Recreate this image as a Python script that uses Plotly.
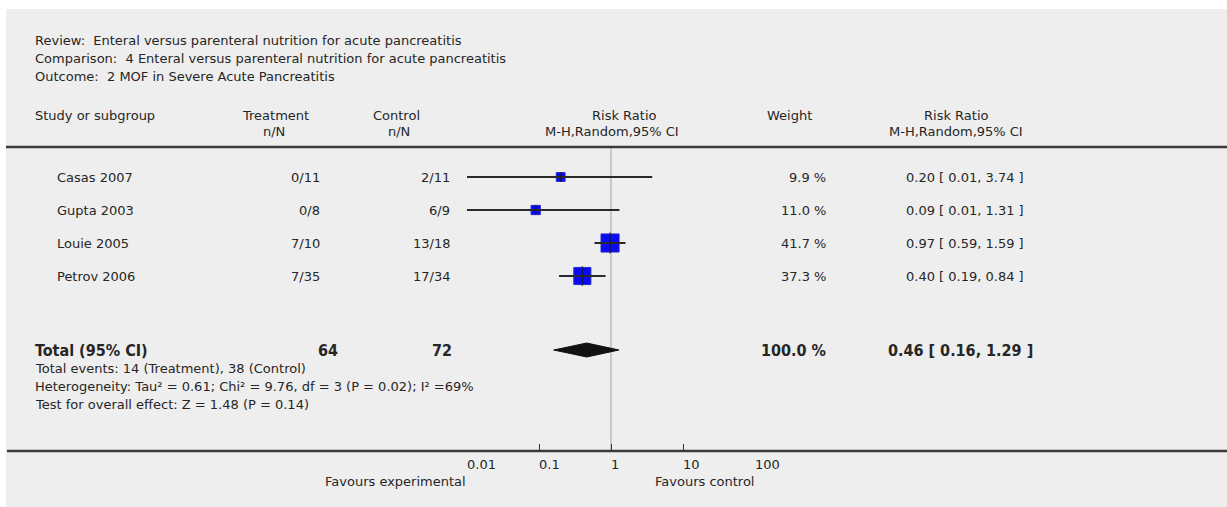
import math
import plotly.graph_objects as go

# ---- data ----
studies = ["Casas 2007", "Gupta 2003", "Louie 2005", "Petrov 2006"]
trt_events = [0, 0, 7, 7]
trt_total = [11, 8, 10, 35]
ctl_events = [2, 6, 13, 17]
ctl_total = [11, 9, 18, 34]
weights = [9.9, 11.0, 41.7, 37.3]
rr = [0.20, 0.09, 0.97, 0.40]
rr_lo = [0.01, 0.01, 0.59, 0.19]
rr_hi = [3.74, 1.31, 1.59, 0.84]

pooled_rr = 0.46
pooled_lo = 0.16
pooled_hi = 1.29
pooled_weight = 100.0

axis_ticks = [0.01, 0.1, 1, 10, 100]
axis_labels = ["0.01", "0.1", "1", "10", "100"]

header_lines = [
    "Review:\u00a0\u00a0Enteral versus parenteral nutrition for acute pancreatitis",
    "Comparison:\u00a0\u00a04 Enteral versus parenteral nutrition for acute pancreatitis",
    "Outcome:\u00a0\u00a02 MOF in Severe Acute Pancreatitis",
]
footer_lines = [
    "Total events: 14 (Treatment), 38 (Control)",
    "Heterogeneity: Tau\u00b2 = 0.61; Chi\u00b2 = 9.76, df = 3 (P = 0.02); I\u00b2 =69%",
    "Test for overall effect: Z = 1.48 (P = 0.14)",
]

# ---- layout geometry ----
W, H = 1227, 507
ROW0, ROW_STEP = 177, 33          # pixel centre of first study row, row spacing
TOTAL_ROW = (350 - ROW0) / ROW_STEP
FONT = "DejaVu Sans, Liberation Sans, sans-serif"
BOLD_FONT = "DejaVu Sans Condensed, DejaVu Sans, sans-serif"
TXT = "#262626"


def px(x):
    return x / W


def py(y):
    return 1 - y / H


fig = go.Figure()

# study squares (area proportional to weight)
sizes = [2.8 * math.sqrt(w) for w in weights]
rows = list(range(len(studies)))
fig.add_trace(go.Scatter(
    x=rr, y=rows, mode="markers", opacity=1,
    marker=dict(symbol="square", size=sizes, color="#0a0af5", opacity=1,
                line=dict(color="#2828c8", width=1)),
    cliponaxis=False, hoverinfo="skip", showlegend=False))

# confidence interval lines
for i in rows:
    fig.add_trace(go.Scatter(
        x=[rr_lo[i], rr_hi[i]], y=[i, i], mode="lines",
        line=dict(color="#2a2a2a", width=2),
        cliponaxis=False, hoverinfo="skip", showlegend=False))

# point-estimate cross ticks
fig.add_trace(go.Scatter(
    x=rr, y=rows, mode="markers",
    marker=dict(symbol="line-ns", size=[max(s - 3, 7) for s in sizes],
                line=dict(color="#1a1a1a", width=1.5)),
    cliponaxis=False, hoverinfo="skip", showlegend=False))

# pooled diamond
dh = 7 / ROW_STEP
fig.add_trace(go.Scatter(
    x=[pooled_lo, pooled_rr, pooled_hi, pooled_rr, pooled_lo],
    y=[TOTAL_ROW, TOTAL_ROW - dh, TOTAL_ROW, TOTAL_ROW + dh, TOTAL_ROW],
    mode="lines", fill="toself", fillcolor="#111111",
    line=dict(color="#111111", width=1),
    cliponaxis=False, hoverinfo="skip", showlegend=False))

shapes = [
    # grey panel
    dict(type="rect", xref="paper", yref="paper", x0=px(6), x1=1, y0=0, y1=py(9),
         fillcolor="#eeeeee", line=dict(width=0), layer="below"),
    # header rule
    dict(type="line", xref="paper", yref="paper", x0=px(6), x1=1, y0=py(147), y1=py(147),
         line=dict(color="#3a3a3a", width=2.5)),
    # axis rule
    dict(type="line", xref="paper", yref="paper", x0=px(7), x1=1, y0=py(451), y1=py(451),
         line=dict(color="#3a3a3a", width=2.5)),
    # line of no effect
    dict(type="line", xref="x", yref="paper", x0=1, x1=1, y0=py(451), y1=py(147),
         line=dict(color="#bdbdbd", width=1.5), layer="below"),
]

annotations = []


def text(x, y, s, anchor="left", size=13, bold=False, yref="paper", xref="paper"):
    family = FONT
    if bold:
        s = "<b>" + s + "</b>"
        family = BOLD_FONT
    shift = {"left": -2, "right": 2, "center": 0}[anchor]
    annotations.append(dict(
        x=x, y=y, xref=xref, yref=yref, text=s, showarrow=False,
        xanchor=anchor, yanchor="middle", xshift=shift,
        font=dict(family=family, size=size, color=TXT)))


# review header
for k, line in enumerate(header_lines):
    text(px(35), py(41 + 17.5 * k), line)

# column headers
text(px(35), py(115), "Study or subgroup")
text(px(275), py(115), "Treatment", "center")
text(px(274), py(131), "n/N", "center")
text(px(396), py(115), "Control", "center")
text(px(399), py(131), "n/N", "center")
text(px(624), py(115), "Risk Ratio", "center")
text(px(612), py(131), "M-H,Random,95% CI", "center")
text(px(789), py(115), "Weight", "center")
text(px(956), py(115), "Risk Ratio", "center")
text(px(956), py(131), "M-H,Random,95% CI", "center")

# study rows
for i, name in enumerate(studies):
    text(px(57), i, name, yref="y")
    text(px(320), i, f"{trt_events[i]}/{trt_total[i]}", "right", yref="y")
    text(px(450), i, f"{ctl_events[i]}/{ctl_total[i]}", "right", yref="y")
    text(px(826), i, f"{weights[i]:.1f} %", "right", yref="y")
    text(px(906), i, f"{rr[i]:.2f} [ {rr_lo[i]:.2f}, {rr_hi[i]:.2f} ]", yref="y")

# total row
text(px(35), TOTAL_ROW, "Total (95% CI)", size=16, bold=True, yref="y")
text(px(338), TOTAL_ROW, str(sum(trt_total)), "right", size=16, bold=True, yref="y")
text(px(452), TOTAL_ROW, str(sum(ctl_total)), "right", size=16, bold=True, yref="y")
text(px(826), TOTAL_ROW, f"{pooled_weight:.1f} %", "right", size=16, bold=True, yref="y")
text(px(888), TOTAL_ROW, f"{pooled_rr:.2f} [ {pooled_lo:.2f}, {pooled_hi:.2f} ]",
     size=16, bold=True, yref="y")
for k, line in enumerate(footer_lines):
    text(px(35), py(368 + 18 * k), line)

# axis tick labels, left-aligned on their ticks
for v, lab in zip(axis_ticks, axis_labels):
    text(math.log10(v), py(464), lab, xref="x")

text(px(466), py(481), "Favours experimental", "right")
text(px(754), py(481), "Favours control", "right")

fig.update_layout(
    width=W, height=H, autosize=False,
    margin=dict(l=0, r=0, t=0, b=0, pad=0),
    paper_bgcolor="white", plot_bgcolor="rgba(0,0,0,0)",
    shapes=shapes, annotations=annotations, showlegend=False,
    xaxis=dict(type="log", range=[-2, 2], domain=[px(467), px(755)],
               showgrid=False, zeroline=False, showline=False,
               tickvals=axis_ticks, ticks="inside", ticklen=6, tickwidth=1,
               tickcolor="#333333", showticklabels=False,
               anchor="free", position=py(450)),
    yaxis=dict(range=[(H - ROW0) / ROW_STEP, -ROW0 / ROW_STEP], domain=[0, 1],
               visible=False, showgrid=False, zeroline=False),
)

fig.write_html("out.html")
